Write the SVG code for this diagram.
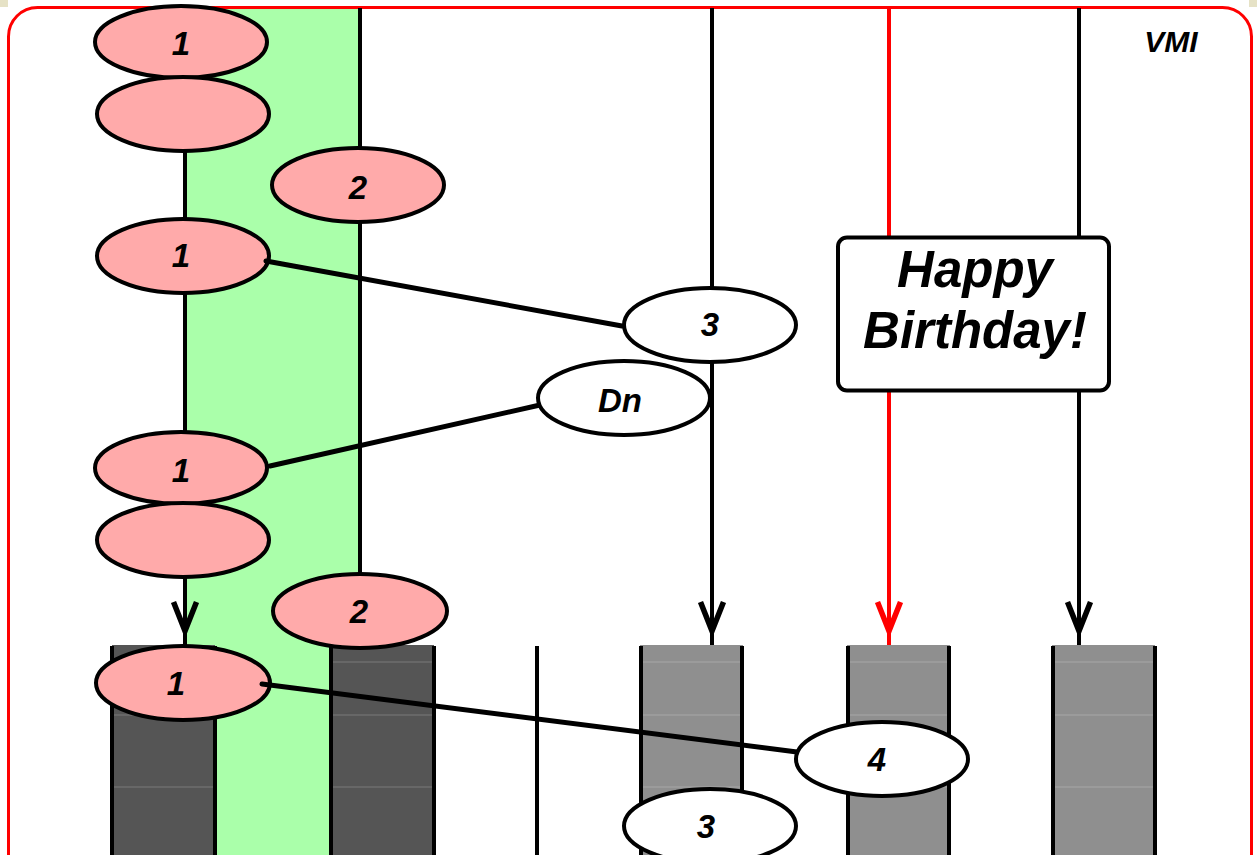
<svg xmlns="http://www.w3.org/2000/svg" width="1257" height="855" viewBox="0 0 1257 855">
  <style>
    .pink { fill: #ffaaaa; stroke: #000; stroke-width: 4; }
    .white { fill: #ffffff; stroke: #000; stroke-width: 4; }
    .lbl { font-family: "Liberation Sans", Arial, sans-serif; font-weight: bold; font-style: italic; font-size: 33px; text-anchor: middle; fill: #000; }
    .vline { stroke: #000; stroke-width: 4; fill: none; }
    .vred { stroke: #ff0000; stroke-width: 4; fill: none; }
    .conn { stroke: #000; stroke-width: 5; stroke-linecap: round; fill: none; }
    .barline { stroke: #000; stroke-width: 4; }
    .grid { stroke: #ffffff; stroke-opacity: 0.22; stroke-width: 1; }
    .dark { fill: #555555; }
    .gray { fill: #8f8f8f; }
  </style>
  <defs>
    <marker id="arrBlack" markerUnits="userSpaceOnUse" viewBox="-50 -20 60 40" refX="0" refY="0" markerWidth="60" markerHeight="40" orient="auto" overflow="visible">
      <path d="M-43,-11.5 L-14,0 L-43,11.5" fill="none" stroke="#000" stroke-width="5.5"/>
    </marker>
    <marker id="arrRed" markerUnits="userSpaceOnUse" viewBox="-50 -20 60 40" refX="0" refY="0" markerWidth="60" markerHeight="40" orient="auto" overflow="visible">
      <path d="M-43,-11.5 L-14,0 L-43,11.5" fill="none" stroke="#ff0000" stroke-width="5.5"/>
    </marker>
  </defs>

  <!-- page background -->
  <rect x="0" y="0" width="1257" height="855" fill="#ffffff"/>
  <rect x="0" y="0" width="8" height="7" fill="#e6e2c6"/>
  <rect x="1249" y="0" width="8" height="7" fill="#e6e2c6"/>
  <rect id="frame" x="8.5" y="7.5" width="1243" height="900" rx="29" ry="29" fill="#ffffff" stroke="#ff0000" stroke-width="3"/>

  <!-- green band -->
  <rect id="band" x="187" y="9" width="173" height="846" fill="#aaffaa"/>

  <!-- bars -->
  <g id="bars">
    <rect class="dark" x="112" y="645" width="103" height="210"/>
    <rect class="dark" x="331" y="645" width="103" height="210"/>
    <rect class="gray" x="640" y="645" width="103" height="210"/>
    <rect class="gray" x="847" y="645" width="103" height="210"/>
    <rect class="gray" x="1052" y="645" width="103" height="210"/>
    <g class="grid">
      <line x1="112" y1="662" x2="215" y2="662"/><line x1="112" y1="715" x2="215" y2="715"/><line x1="112" y1="787" x2="215" y2="787"/>
      <line x1="331" y1="662" x2="434" y2="662"/><line x1="331" y1="715" x2="434" y2="715"/><line x1="331" y1="787" x2="434" y2="787"/>
      <line x1="640" y1="662" x2="743" y2="662"/><line x1="640" y1="715" x2="743" y2="715"/><line x1="640" y1="787" x2="743" y2="787"/>
      <line x1="847" y1="662" x2="950" y2="662"/><line x1="847" y1="715" x2="950" y2="715"/><line x1="847" y1="787" x2="950" y2="787"/>
      <line x1="1052" y1="662" x2="1155" y2="662"/><line x1="1052" y1="715" x2="1155" y2="715"/><line x1="1052" y1="787" x2="1155" y2="787"/>
    </g>
    <g class="barline">
      <line x1="112" y1="646" x2="112" y2="855"/>
      <line x1="215" y1="646" x2="215" y2="855"/>
      <line x1="331" y1="646" x2="331" y2="855"/>
      <line x1="434" y1="646" x2="434" y2="855"/>
      <line x1="537" y1="646" x2="537" y2="855"/>
      <line x1="641" y1="646" x2="641" y2="855"/>
      <line x1="742" y1="646" x2="742" y2="855"/>
      <line x1="848" y1="646" x2="848" y2="855"/>
      <line x1="949" y1="646" x2="949" y2="855"/>
      <line x1="1053" y1="646" x2="1053" y2="855"/>
      <line x1="1155" y1="646" x2="1155" y2="855"/>
    </g>
  </g>

  <!-- connectors -->
  <g id="connectors">
    <line class="vline" x1="185" y1="120" x2="185" y2="645" marker-end="url(#arrBlack)"/>
    <line class="vline" x1="360" y1="8" x2="360" y2="580"/>
    <line class="vline" x1="712" y1="8" x2="712" y2="645" marker-end="url(#arrBlack)"/>
    <line class="vred" x1="889" y1="8" x2="889" y2="645" marker-end="url(#arrRed)"/>
    <line class="vline" x1="1079" y1="8" x2="1079" y2="645" marker-end="url(#arrBlack)"/>
  </g>

  <!-- pink nodes -->
  <g id="n1a"><ellipse class="pink" cx="181" cy="42" rx="86" ry="36"/><text class="lbl" x="181" y="55">1</text></g>
  <g id="n0a"><ellipse class="pink" cx="183" cy="114" rx="86" ry="37"/></g>
  <g id="n2a"><ellipse class="pink" cx="358" cy="185" rx="86" ry="37"/><text class="lbl" x="358" y="199">2</text></g>
  <g id="n1b"><ellipse class="pink" cx="183" cy="256" rx="86" ry="37"/><text class="lbl" x="181" y="267">1</text></g>
  <g id="n1c"><ellipse class="pink" cx="181" cy="468" rx="86" ry="36"/><text class="lbl" x="181" y="482">1</text></g>
  <g id="n0b"><ellipse class="pink" cx="183" cy="540" rx="86" ry="37"/></g>
  <g id="n2b"><ellipse class="pink" cx="360" cy="611" rx="87" ry="37"/><text class="lbl" x="359" y="623">2</text></g>
  <g id="n1d"><ellipse class="pink" cx="183" cy="683" rx="87" ry="37"/><text class="lbl" x="176" y="695">1</text></g>

  <!-- link lines -->
  <g id="links">
    <line class="conn" x1="266" y1="261" x2="622" y2="326"/>
    <line class="conn" x1="270" y1="466" x2="540" y2="405"/>
    <line class="conn" x1="262" y1="684" x2="797" y2="752"/>
  </g>

  <!-- white nodes -->
  <g id="n3a"><ellipse class="white" cx="710" cy="325" rx="86" ry="37"/><text class="lbl" x="710" y="336">3</text></g>
  <g id="nDn"><ellipse class="white" cx="624" cy="398" rx="86" ry="37"/><text class="lbl" x="620" y="412">Dn</text></g>
  <g id="n4"><ellipse class="white" cx="882" cy="759" rx="86" ry="37"/><text class="lbl" x="877" y="771">4</text></g>
  <g id="n3b"><ellipse class="white" cx="710" cy="826" rx="86" ry="37"/><text class="lbl" x="706" y="838">3</text></g>

  <!-- Happy Birthday box -->
  <g id="birthday">
    <rect x="838" y="237.5" width="271" height="153" rx="9" ry="9" fill="#ffffff" stroke="#000" stroke-width="4"/>
    <text class="lbl" x="975" y="287" style="font-size:51px">Happy</text>
    <text class="lbl" x="975" y="348" style="font-size:51px">Birthday!</text>
  </g>

  <!-- VMI label -->
  <g id="vmi"><text class="lbl" x="1171" y="52" style="font-size:30px">VMI</text></g>
</svg>
